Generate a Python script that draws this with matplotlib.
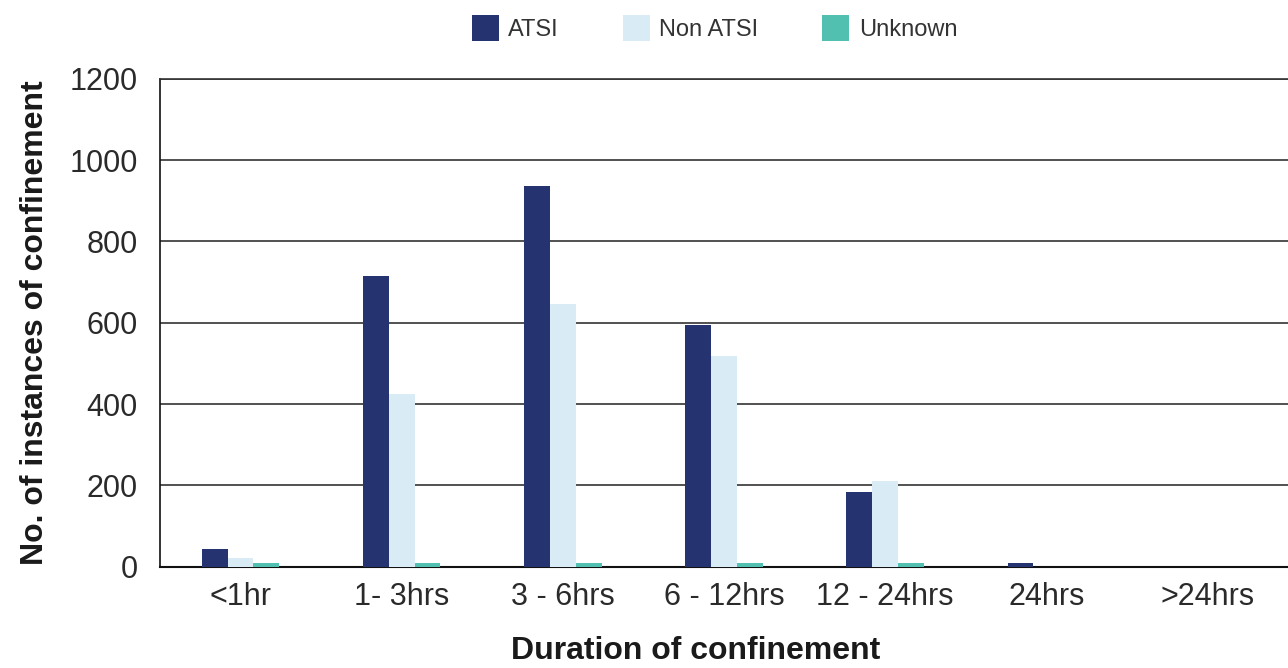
import matplotlib
matplotlib.use("Agg")
import matplotlib.pyplot as plt
import numpy as np

plt.rcParams['font.family'] = ['Liberation Sans', 'DejaVu Sans']

categories = ['<1hr', '1- 3hrs', '3 - 6hrs', '6 - 12hrs', '12 - 24hrs', '24hrs', '>24hrs']
atsi = [44, 716, 936, 595, 183, 10, 0]
non_atsi = [22, 424, 647, 518, 210, 0, 0]
unknown = [10, 10, 10, 10, 10, 0, 0]
series_names = ['ATSI', 'Non ATSI', 'Unknown']
colors = ['#253470', '#d9ebf5', '#52c0b0']
yticks = [0, 200, 400, 600, 800, 1000, 1200]

fig = plt.figure(figsize=(12.88, 6.68), dpi=100)
ax = fig.add_axes([0.1242, 0.1517, 0.8758, 0.7303])

x = np.arange(len(categories))
w = 0.16
for i, (vals, name, c) in enumerate(zip([atsi, non_atsi, unknown], series_names, colors)):
    ax.bar(x + (i - 1) * w, vals, width=w, color=c, label=name, zorder=3, linewidth=0)

ax.set_xlim(-0.5, len(categories) - 0.5)
ax.set_ylim(0, 1200)
ax.set_yticks(yticks)
ax.set_yticklabels([str(t) for t in yticks])
ax.set_xticks(x)
ax.set_xticklabels(categories)
ax.tick_params(axis='both', length=0, labelsize=22, colors='#2a2a2a')
ax.tick_params(axis='y', pad=16)
ax.tick_params(axis='x', pad=11)

ax.yaxis.grid(True, color='#333333', linewidth=1.2, zorder=1)
ax.set_axisbelow(True)
ax.spines['right'].set_visible(False)
ax.spines['top'].set_color('#333333')
ax.spines['top'].set_linewidth(1.2)
ax.spines['left'].set_color('#111111')
ax.spines['left'].set_linewidth(1.2)
ax.spines['bottom'].set_color('#111111')
ax.spines['bottom'].set_linewidth(1.5)

ax.set_ylabel('No. of instances of confinement', fontsize=23, fontweight='bold',
              color='#1a1a1a', labelpad=14)
ax.set_xlabel('Duration of confinement', fontsize=23, fontweight='bold',
              color='#1a1a1a')
ax.xaxis.set_label_coords(0.475, -0.172)
ax.xaxis.label.set_verticalalignment('center')

leg = ax.legend(loc='center', bbox_to_anchor=(0.4916, 1.1045), ncol=3, frameon=False,
                fontsize=17, handlelength=1.15, handleheight=1.3, handletextpad=0.4,
                columnspacing=2.7, borderaxespad=0.0)
for t in leg.get_texts():
    t.set_color('#333333')

fig.savefig('out.png', dpi=100, facecolor='white')
